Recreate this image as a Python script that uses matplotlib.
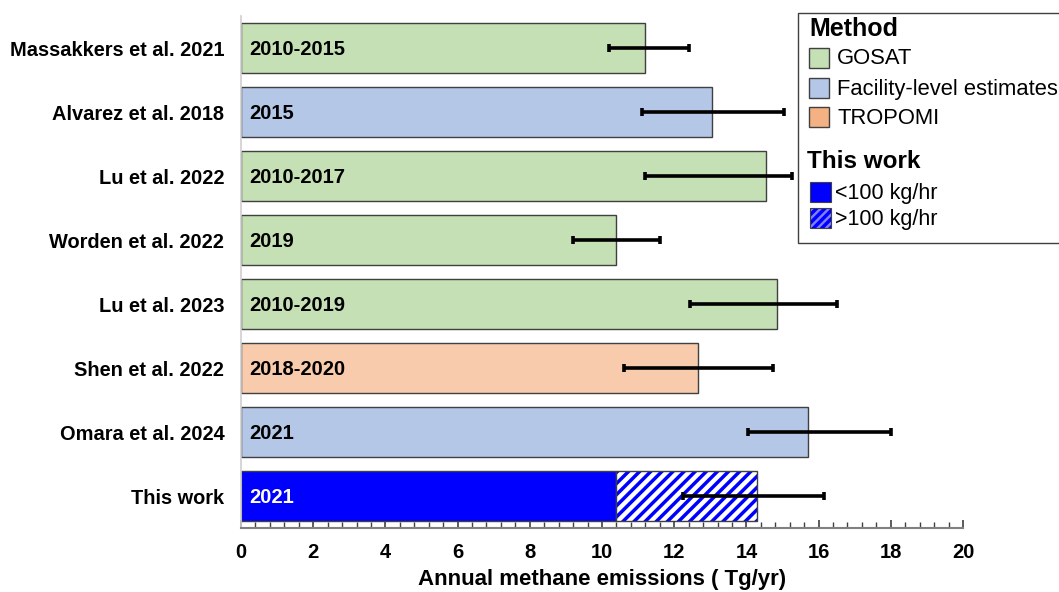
import matplotlib
matplotlib.use("Agg")
import matplotlib.pyplot as plt
from matplotlib.patches import Rectangle

plt.rcParams['font.family'] = ['Liberation Sans', 'DejaVu Sans']
plt.rcParams['hatch.linewidth'] = 2.5

studies = ["Massakkers et al. 2021", "Alvarez et al. 2018", "Lu et al. 2022",
           "Worden et al. 2022", "Lu et al. 2023", "Shen et al. 2022",
           "Omara et al. 2024", "This work"]
periods = ["2010-2015", "2015", "2010-2017", "2019", "2010-2019",
           "2018-2020", "2021", "2021"]
methods = ["GOSAT", "Facility-level estimates", "GOSAT", "GOSAT", "GOSAT",
           "TROPOMI", "Facility-level estimates", "This work"]
values = [11.2, 13.05, 14.55, 10.4, 14.85, 12.65, 15.7, 14.3]
err_low = [10.2, 11.1, 11.2, 9.2, 12.45, 10.6, 14.05, 12.25]
err_high = [12.4, 15.05, 15.25, 11.6, 16.5, 14.75, 18.0, 16.15]
small_part = 10.4   # <100 kg/hr portion for "This work"

method_colors = {"GOSAT": "#c5e0b4", "Facility-level estimates": "#b4c7e7",
                 "TROPOMI": "#f8cbad"}
legend_colors = {"GOSAT": "#c5e0b4", "Facility-level estimates": "#b4c7e7",
                 "TROPOMI": "#f4b183"}

W, H = 1059, 592
fig = plt.figure(figsize=(W / 100, H / 100), dpi=100)
ax = fig.add_axes([241 / W, (H - 528) / H, 722 / W, 512 / H])

n = len(studies)
ypos = list(range(n))
bh = 0.77
edge = "#404040"
for i, (s, v, m) in enumerate(zip(studies, values, methods)):
    if m == "This work":
        ax.barh(i, small_part, height=bh, color="#0000ff", edgecolor=edge, linewidth=1.0, zorder=2)
        ax.barh(i, v - small_part, left=small_part, height=bh, color="white",
                edgecolor="#0000ff", hatch="///", linewidth=0, zorder=2)
        ax.barh(i, v - small_part, left=small_part, height=bh, color="none",
                edgecolor=edge, linewidth=1.0, zorder=2)
        tc = "white"
    else:
        ax.barh(i, v, height=bh, color=method_colors[m], edgecolor=edge, linewidth=1.0, zorder=2)
        tc = "black"
    ax.text(0.22, i + 0.02, periods[i], ha="left", va="center", fontsize=14.5,
            fontweight="bold", color=tc, zorder=4)

centers = [(lo + hi) / 2 for lo, hi in zip(err_low, err_high)]
half = [(hi - lo) / 2 for lo, hi in zip(err_low, err_high)]
ax.errorbar(centers, ypos, xerr=half, fmt="none", ecolor="black",
            elinewidth=2.6, capsize=3, capthick=2.6, zorder=3)

ax.set_ylim(n - 0.5, -0.5)
ax.set_xlim(0, 20)
ax.set_yticks(ypos)
ax.set_yticklabels(studies, fontsize=14.4, fontweight="bold")
ax.tick_params(axis="y", length=0, pad=12)
ax.set_xticks(range(0, 21, 2))
ax.set_xticks([i * 0.4 for i in range(51)], minor=True)
ax.set_xticklabels([str(t) for t in range(0, 21, 2)], fontsize=14.5, fontweight="bold")
ax.tick_params(axis="x", which="major", direction="in", length=6, width=1.2,
               color="#404040", pad=11)
ax.tick_params(axis="x", which="minor", direction="in", length=4, width=1.0,
               color="#404040")
ax.set_xlabel("Annual methane emissions ( Tg/yr)", fontsize=16,
              fontweight="bold", labelpad=5)
for sp in ["top", "right"]:
    ax.spines[sp].set_visible(False)
ax.spines["left"].set_color("#d0d0d0")
ax.spines["left"].set_linewidth(1.2)
ax.spines["bottom"].set_color("#808080")
ax.spines["bottom"].set_linewidth(1.5)

# Legend drawn in figure pixel coordinates
def px(x, y):
    return x / W, 1 - y / H

x0, y0 = px(798, 243)
x1, y1 = px(1075, 13)
fig.patches.append(Rectangle((x0, y0), x1 - x0, y1 - y0, transform=fig.transFigure,
                             facecolor="white", edgecolor="#404040", linewidth=1.0,
                             clip_on=False, zorder=5))
fig.text(*px(809, 29), "Method", fontsize=18, fontweight="bold", va="center", zorder=6)
leg_items = ["GOSAT", "Facility-level estimates", "TROPOMI"]
leg_y = [58, 88, 117]
for name, yy in zip(leg_items, leg_y):
    a, b = px(809, yy + 10)
    c, d = px(829, yy - 10)
    fig.patches.append(Rectangle((a, b), c - a, d - b, transform=fig.transFigure,
                                 facecolor=legend_colors[name], edgecolor="#404040",
                                 linewidth=1.0, zorder=6))
    fig.text(*px(837, yy + 1), name, fontsize=15.8, va="center", zorder=6)
fig.text(*px(807, 162), "This work", fontsize=17.5, fontweight="bold", va="center", zorder=6)
tw_items = ["<100 kg/hr", ">100 kg/hr"]
tw_y = [192, 218]
for k, (name, yy) in enumerate(zip(tw_items, tw_y)):
    a, b = px(810, yy + 10)
    c, d = px(831, yy - 10)
    if k == 0:
        fig.patches.append(Rectangle((a, b), c - a, d - b, transform=fig.transFigure,
                                     facecolor="#0000ff", edgecolor="#404040",
                                     linewidth=0.8, zorder=6))
    else:
        fig.patches.append(Rectangle((a, b), c - a, d - b, transform=fig.transFigure,
                                     facecolor="#8080ff", edgecolor="#0000ff", hatch="////",
                                     linewidth=0, zorder=6))
        fig.patches.append(Rectangle((a, b), c - a, d - b, transform=fig.transFigure,
                                     facecolor="none", edgecolor="#404040",
                                     linewidth=0.8, zorder=6))
    fig.text(*px(835, yy + 1), name, fontsize=15.5, va="center", zorder=6)

fig.savefig("out.png", dpi=100)
